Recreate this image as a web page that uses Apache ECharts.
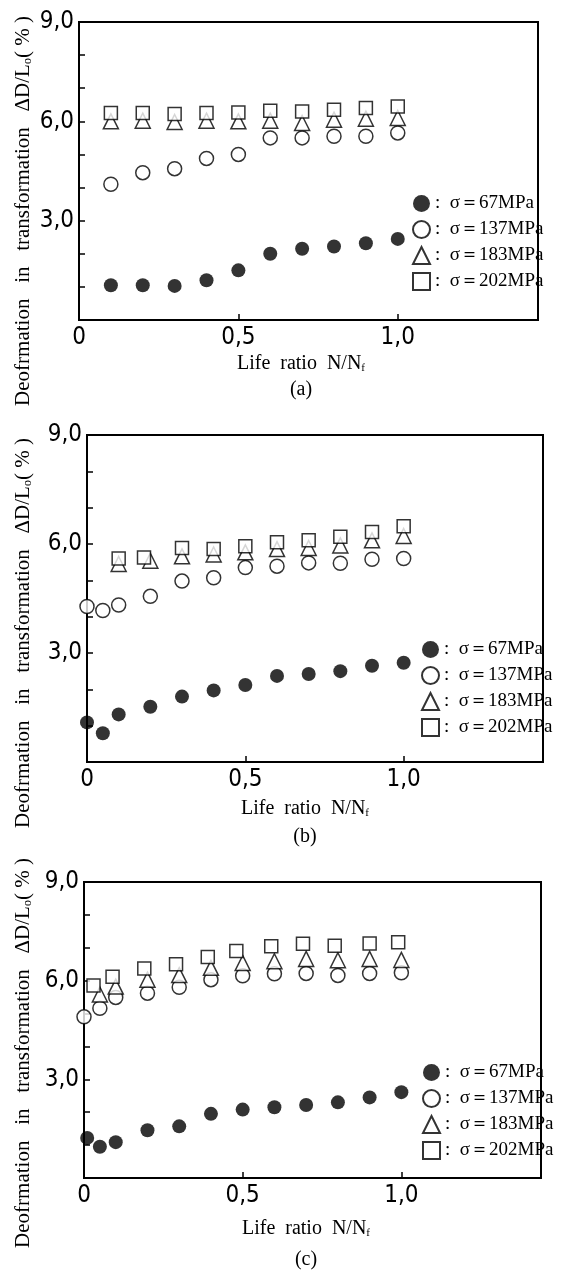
<!DOCTYPE html>
<html>
<head>
<meta charset="utf-8">
<script src="https://cdn.jsdelivr.net/npm/echarts@6/dist/echarts.min.js"></script>
<style>
  html, body { margin: 0; padding: 0; background: #fff; }
  #chart { width: 563px; height: 1280px; }
</style>
</head>
<body>
<div id="chart"></div>
<script>
// legend names
var names = ['σ＝67MPa', 'σ＝137MPa', 'σ＝183MPa', 'σ＝202MPa'];

// (a)
var xA = [0.1, 0.2, 0.3, 0.4, 0.5, 0.6, 0.7, 0.8, 0.9, 1.0];
var a67 = [1.05, 1.05, 1.03, 1.2, 1.5, 2.0, 2.15, 2.22, 2.32, 2.45];
var a137 = [4.1, 4.45, 4.57, 4.88, 5.0, 5.5, 5.5, 5.55, 5.55, 5.65];
var a183 = [6.0, 6.02, 5.98, 6.02, 6.0, 6.02, 5.95, 6.05, 6.08, 6.1];
var a202 = [6.25, 6.25, 6.22, 6.25, 6.27, 6.32, 6.3, 6.35, 6.4, 6.45];

// (b)
var xB67 = [0, 0.05, 0.1, 0.2, 0.3, 0.4, 0.5, 0.6, 0.7, 0.8, 0.9, 1.0];
var b67 = [1.09, 0.79, 1.31, 1.52, 1.8, 1.97, 2.12, 2.37, 2.42, 2.5, 2.65, 2.73];
var xB137 = [0, 0.05, 0.1, 0.2, 0.3, 0.4, 0.5, 0.6, 0.7, 0.8, 0.9, 1.0];
var b137 = [4.28, 4.17, 4.32, 4.56, 4.98, 5.07, 5.35, 5.39, 5.48, 5.47, 5.58, 5.6];
var xB183 = [0.1, 0.2, 0.3, 0.4, 0.5, 0.6, 0.7, 0.8, 0.9, 1.0];
var b183 = [5.45, 5.54, 5.66, 5.71, 5.77, 5.86, 5.89, 5.96, 6.1, 6.22];
var xB202 = [0.1, 0.18, 0.3, 0.4, 0.5, 0.6, 0.7, 0.8, 0.9, 1.0];
var b202 = [5.6, 5.63, 5.89, 5.86, 5.94, 6.05, 6.1, 6.2, 6.33, 6.49];

// (c)
var xC67 = [0.01, 0.05, 0.1, 0.2, 0.3, 0.4, 0.5, 0.6, 0.7, 0.8, 0.9, 1.0];
var c67 = [1.22, 0.95, 1.09, 1.45, 1.57, 1.95, 2.08, 2.15, 2.22, 2.3, 2.45, 2.61];
var xC137 = [0, 0.05, 0.1, 0.2, 0.3, 0.4, 0.5, 0.6, 0.7, 0.8, 0.9, 1.0];
var c137 = [4.9, 5.16, 5.49, 5.62, 5.8, 6.03, 6.15, 6.21, 6.22, 6.16, 6.22, 6.24];
var xC183 = [0.05, 0.1, 0.2, 0.3, 0.4, 0.5, 0.6, 0.7, 0.8, 0.9, 1.0];
var c183 = [5.58, 5.82, 6.03, 6.17, 6.39, 6.54, 6.59, 6.66, 6.62, 6.66, 6.63];
var xC202 = [0.03, 0.09, 0.19, 0.29, 0.39, 0.48, 0.59, 0.69, 0.79, 0.9, 0.99];
var c202 = [5.85, 6.12, 6.37, 6.5, 6.72, 6.9, 7.05, 7.12, 7.06, 7.13, 7.17];

var xTickLabels = { 0: '0', 0.5: '0,5', 1: '1,0' };
var yTickLabels = { 3: '3,0', 6: '6,0', 9: '9,0' };

var numFont = '"Liberation Sans Narrow", "DejaVu Sans Condensed", sans-serif';
var serif = '"Liberation Serif", "DejaVu Serif", serif';

function pairs(xs, ys) {
    return xs.map(function (x, i) { return [x, ys[i]]; });
}

// panel boxes [left, top, right edge, bottom edge]
var boxes = [
    [79, 22, 538, 320],
    [87, 435, 543, 762],
    [84, 882, 541, 1178]
];

var grids = [], xAxes = [], yAxes = [], legends = [], series = [];
var legendPos = [[412, 194], [421, 640], [422, 1063]];

boxes.forEach(function (b, i) {
    grids.push({
        left: b[0], top: b[1], width: b[2] - b[0], height: b[3] - b[1],
        show: true, borderColor: '#000', borderWidth: 2, backgroundColor: 'transparent'
    });
    xAxes.push({
        gridIndex: i, type: 'value', min: 0, max: 1.44, interval: 0.5,
        axisLine: { lineStyle: { color: '#000', width: 2 } },
        axisTick: { inside: true, length: 6, lineStyle: { color: '#000', width: 1.5 } },
        splitLine: { show: false },
        axisLabel: {
            color: '#000', fontSize: 24, fontFamily: numFont, margin: 6,
            formatter: function (v) { return xTickLabels[v] || ''; }
        }
    });
    yAxes.push({
        gridIndex: i, type: 'value', min: 0, max: 9, interval: 1,
        axisLine: { lineStyle: { color: '#000', width: 2 } },
        axisTick: { inside: true, length: 6, lineStyle: { color: '#000', width: 1.5 } },
        splitLine: { show: false },
        axisLabel: {
            color: '#000', fontSize: 24, fontFamily: numFont, margin: 5,
            formatter: function (v) { return yTickLabels[v] || ''; }
        }
    });
    legends.push({
        orient: 'vertical', left: legendPos[i][0], top: legendPos[i][1],
        itemWidth: 17, itemHeight: 17, itemGap: 7, padding: 0,
        selectedMode: false,
        data: [
            { name: names[0], icon: 'circle' },
            { name: names[1], icon: 'circle' },
            { name: names[2], icon: 'triangle' },
            { name: names[3], icon: 'rect' }
        ],
        formatter: function (n) { return ':  ' + n; },
        textStyle: { color: '#000', fontSize: 19, fontFamily: serif }
    });
});

var panelData = [
    [pairs(xA, a67), pairs(xA, a137), pairs(xA, a183), pairs(xA, a202)],
    [pairs(xB67, b67), pairs(xB137, b137), pairs(xB183, b183), pairs(xB202, b202)],
    [pairs(xC67, c67), pairs(xC137, c137), pairs(xC183, c183), pairs(xC202, c202)]
];

var symbols = ['circle', 'circle', 'triangle', 'rect'];
var sizes = [14, 14, 15, 13];
var styles = [
    { color: '#000' },
    { color: '#fff', borderColor: '#000', borderWidth: 1.5 },
    { color: '#fff', borderColor: '#000', borderWidth: 1.5 },
    { color: '#fff', borderColor: '#000', borderWidth: 1.5 }
];

panelData.forEach(function (set, i) {
    // squares underneath, triangles over them, as printed
    [3, 2, 1, 0].forEach(function (k) {
        series.push({
            name: names[k], type: 'scatter', xAxisIndex: i, yAxisIndex: i,
            symbol: symbols[k], symbolSize: sizes[k], clip: false,
            itemStyle: styles[k], data: set[k], z: 3 + k
        });
    });
});

var yTitle = [[23, 211], [23, 633], [23, 1053]];
var xTitle = [[301, 364], [305, 809], [306, 1229]];
var caps = ['(a)', '(b)', '(c)'];
var capY = [390, 837, 1260];
var graphics = [];
for (var i = 0; i < 3; i++) {
    graphics.push({
        type: 'text', x: yTitle[i][0], y: yTitle[i][1], rotation: Math.PI / 2,
        style: {
            text: '{a|Deofrmation   in   transformation   ΔD/L}{s|o}{a|( % )}',
            align: 'center', verticalAlign: 'middle', fill: '#000',
            rich: {
                a: { fontSize: 21, fontFamily: serif, fill: '#000' },
                s: { fontSize: 12, fontFamily: serif, fill: '#000', padding: [9, 0, 0, 0] }
            }
        }
    });
    graphics.push({
        type: 'text', x: xTitle[i][0], y: xTitle[i][1],
        style: {
            text: '{a|Life  ratio  N/N}{s|f}',
            align: 'center', verticalAlign: 'middle', fill: '#000',
            rich: {
                a: { fontSize: 20, fontFamily: serif, fill: '#000' },
                s: { fontSize: 11, fontFamily: serif, fill: '#000', padding: [8, 0, 0, 0] }
            }
        }
    });
    graphics.push({
        type: 'text', x: xTitle[i][0], y: capY[i],
        style: {
            text: caps[i], align: 'center', verticalAlign: 'middle',
            fill: '#000', fontSize: 20, fontFamily: serif
        }
    });
}

var myChart = echarts.init(document.getElementById('chart'), null, { renderer: 'canvas' });
var option = {
    backgroundColor: '#fff',
    animation: false,
    grid: grids,
    xAxis: xAxes,
    yAxis: yAxes,
    legend: legends,
    series: series,
    graphic: graphics
};
myChart.setOption(option);
</script>
</body>
</html>
